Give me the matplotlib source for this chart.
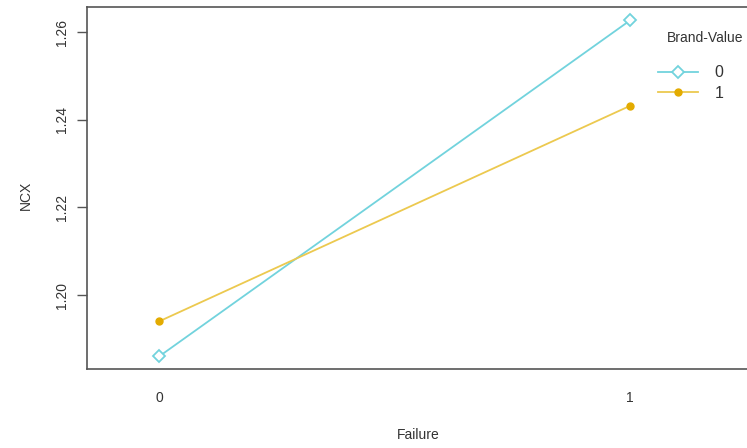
import numpy as np
import matplotlib
matplotlib.use("Agg")
import matplotlib.pyplot as plt

plt.rcParams['font.family'] = ['Liberation Sans', 'DejaVu Sans']

# data
failure = [0, 1]
ncx_brand0 = [1.186, 1.2627]
ncx_brand1 = [1.194, 1.2432]
brand_levels = ['0', '1']
y_ticks = [1.20, 1.22, 1.24, 1.26]

fig = plt.figure(figsize=(7.47, 4.48), dpi=100)
ax = fig.add_axes([0.1165, 0.176, 0.91, 0.808])

ax.plot(failure, ncx_brand0, color='#72d3dd', lw=1.3, marker='D', ms=6,
        mfc='white', mec='#72d3dd', mew=1.3, label=brand_levels[0])
ax.plot(failure, ncx_brand1, color='#ecc94f', lw=1.3, marker='o', ms=5,
        mfc='#e3ab00', mec='#e3ab00', label=brand_levels[1])

ax.set_xlim(-0.153, 1.290)
ax.set_ylim(1.1831, 1.2657)
ax.set_xticks(failure)
ax.set_xticklabels(['0', '1'])
ax.set_yticks(y_ticks)
ax.set_yticklabels(['%.2f' % v for v in y_ticks], rotation=90, va='center')
ax.tick_params(axis='x', length=0, pad=16, labelsize=10, colors='#333333')
ax.tick_params(axis='y', length=7, width=1, pad=6, labelsize=10, color='#555555',
               labelcolor='#333333')
for s in ax.spines.values():
    s.set_color('#555555')
    s.set_linewidth(1.2)

fig.text(0.560, 0.028, 'Failure', ha='center', va='center', fontsize=10, color='#333333')
fig.text(0.034, 0.565, 'NCX', ha='center', va='center', rotation=90, fontsize=10,
         color='#333333')
fig.text(0.893, 0.915, 'Brand-Value', ha='left', va='center', fontsize=10,
         color='#333333')

leg = ax.legend(loc='upper left', bbox_to_anchor=(0.881, 0.854),
                bbox_transform=fig.transFigure, frameon=False, fontsize=11.5,
                handlelength=2.5, handletextpad=1.05, labelspacing=0.35,
                borderaxespad=0, borderpad=0)
for t in leg.get_texts():
    t.set_color('#333333')

fig.savefig('out.png', dpi=100)
